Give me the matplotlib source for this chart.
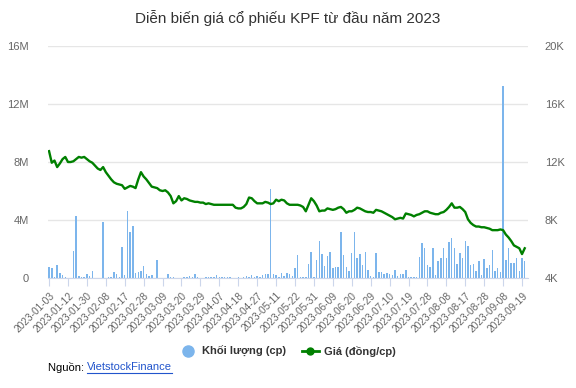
import matplotlib.pyplot as plt
from matplotlib.ticker import FuncFormatter
from matplotlib.lines import Line2D
import numpy as np

# tick labels: every 7th trading day
tick_labels = ["2023-01-03", "2023-01-12", "2023-01-30", "2023-02-08", "2023-02-17",
               "2023-02-28", "2023-03-09", "2023-03-20", "2023-03-29", "2023-04-07",
               "2023-04-18", "2023-04-27", "2023-05-11", "2023-05-22", "2023-05-31",
               "2023-06-09", "2023-06-20", "2023-06-29", "2023-07-10", "2023-07-19",
               "2023-07-28", "2023-08-08", "2023-08-17", "2023-08-28", "2023-09-08",
               "2023-09-19"]

# price, thousand VND per share
price_k = [
    12.75, 11.95, 12.1, 11.65, 11.9, 12.2, 12.35, 12.0, 12.0, 12.05,
    12.2, 12.35, 12.3, 12.35, 12.2, 12.05, 11.95, 11.75, 11.55, 11.45,
    11.65, 11.3, 11.05, 10.8, 10.6, 10.5, 10.45, 10.4, 10.15, 10.25,
    10.35, 10.3, 10.2, 10.8, 11.3, 11.0, 10.8, 10.55, 10.3, 10.25,
    10.2, 10.05, 10.0, 10.05, 9.9, 9.65, 9.15, 9.3, 9.65, 9.35,
    9.5, 9.45, 9.35, 9.3, 9.25, 9.25, 9.2, 9.2, 9.1, 9.15,
    9.1, 9.05, 9.05, 9.05, 9.05, 9.05, 9.05, 9.05, 9.05, 8.85,
    8.8, 8.8, 8.9, 9.1, 9.55, 9.5, 9.3, 9.15, 9.15, 9.15,
    9.25, 9.2, 9.1, 9.15, 9.4, 9.3, 9.4, 9.35, 9.15, 9.05,
    9.05, 9.05, 9.05, 9.0, 8.9, 8.6, 9.05, 9.5, 9.3, 9.0,
    8.6, 8.65, 8.65, 8.8, 8.75, 8.7, 8.75, 8.85, 8.9, 8.75,
    8.5, 8.6, 8.6, 8.7, 8.85, 8.8, 8.7, 8.6, 8.55, 8.55,
    8.5, 8.7, 8.65, 8.6, 8.5, 8.4, 8.3, 8.2, 8.05, 8.1,
    8.15, 8.1, 8.45, 8.4, 8.35, 8.25, 8.35, 8.4, 8.5, 8.6,
    8.6, 8.5, 8.45, 8.4, 8.4, 8.5, 8.55, 8.7, 8.9, 9.15,
    8.85, 8.85, 8.9, 8.75, 8.55, 8.05, 7.8, 7.65, 7.55, 7.55,
    7.5, 7.5, 7.45, 7.4, 7.3, 7.3, 7.3, 7.35, 7.3, 7.0,
    6.8, 6.55, 6.25, 6.15, 6.05, 5.65, 6.05,
]

# volume, million shares
volume_m = [
    0.74, 0.70, 0.10, 0.90, 0.33, 0.20, 0.05, 0.03, 0.03, 1.87,
    4.29, 0.15, 0.10, 0.10, 0.30, 0.15, 0.50, 0.02, 0.02, 0.02,
    3.83, 0.02, 0.10, 0.05, 0.40, 0.25, 0.05, 2.17, 0.20, 4.64,
    3.20, 3.60, 0.35, 0.40, 0.50, 0.85, 0.30, 0.15, 0.20, 0.02,
    1.25, 0.02, 0.02, 0.02, 0.30, 0.05, 0.05, 0.02, 0.02, 0.03,
    0.05, 0.05, 0.15, 0.05, 0.25, 0.10, 0.02, 0.03, 0.05, 0.10,
    0.05, 0.08, 0.20, 0.08, 0.10, 0.05, 0.08, 0.05, 0.03, 0.02,
    0.05, 0.03, 0.10, 0.15, 0.08, 0.20, 0.10, 0.15, 0.10, 0.20,
    0.30, 0.30, 6.14, 0.30, 0.20, 0.10, 0.35, 0.15, 0.35, 0.30,
    0.15, 0.72, 1.60, 0.10, 0.10, 0.10, 0.97, 1.82, 0.10, 1.25,
    2.56, 1.66, 0.85, 1.52, 1.78, 0.67, 0.74, 0.74, 3.18, 1.60,
    0.74, 0.45, 1.75, 3.18, 1.41, 1.66, 0.90, 1.78, 0.55, 0.15,
    0.10, 1.75, 0.40, 0.38, 0.30, 0.35, 0.30, 0.20, 0.55, 0.15,
    0.30, 0.30, 0.55, 0.05, 0.08, 0.05, 0.08, 1.47, 2.40, 2.10,
    0.90, 0.76, 2.05, 0.20, 1.20, 1.40, 2.05, 1.40, 2.50, 2.74,
    2.10, 1.00, 1.75, 1.36, 2.56, 2.20, 0.90, 0.97, 0.45, 1.20,
    0.20, 1.28, 0.67, 0.90, 1.92, 0.50, 0.67, 0.40, 13.25, 1.25,
    2.05, 1.05, 1.05, 1.36, 0.45, 1.40, 1.15,
]

plt.rcParams['font.family'] = ['Liberation Sans', 'DejaVu Sans']

x = np.arange(len(price_k))
vol = np.array(volume_m) * 1e6
price = np.array(price_k) * 1000

fig = plt.figure(figsize=(5.76, 3.88), dpi=100)
ax = fig.add_axes([0.0833, 0.2835, 0.8333, 0.5979])
ax2 = ax.twinx()

ax.bar(x, vol, width=0.55, color="#7cb5ec", zorder=2)
ax2.plot(x, price, color="#008000", lw=1.7, zorder=3)

ax.set_xlim(-0.4, 177.2)
ax.set_ylim(0, 16e6)
ax2.set_ylim(4000, 20000)
ax.set_yticks([0, 4e6, 8e6, 12e6, 16e6])
ax2.set_yticks([4000, 8000, 12000, 16000, 20000])
ax.yaxis.set_major_formatter(FuncFormatter(lambda v, p: "0" if v == 0 else f"{v/1e6:.0f}M"))
ax2.yaxis.set_major_formatter(FuncFormatter(lambda v, p: f"{v/1000:.0f}K"))

ax.grid(axis="y", color="#e6e6e6", lw=1)
ax.set_axisbelow(True)

ax.set_xticks(np.arange(len(tick_labels)) * 7)
ax.set_xticklabels(tick_labels, rotation=45, ha="right", va="top",
                   rotation_mode="anchor", fontsize=7.3, color="#666666")

for a in (ax, ax2):
    for s in ("top", "left", "right", "bottom"):
        a.spines[s].set_visible(False)
ax.spines["bottom"].set_visible(True)
ax.spines["bottom"].set_color("#ccd6eb")

ax.tick_params(axis="x", length=6, color="#ccd6eb", pad=3)
ax.tick_params(axis="y", length=0, labelsize=8, labelcolor="#666666", pad=14)
ax2.tick_params(axis="y", length=0, labelsize=8, labelcolor="#666666", pad=12)

fig.text(0.5, 0.953, "Diễn biến giá cổ phiếu KPF từ đầu năm 2023",
         ha="center", va="center", fontsize=11, color="#333333")

handles = [
    Line2D([], [], marker="o", ls="none", color="#7cb5ec", markersize=8),
    Line2D([], [], marker="o", color="#008000", lw=2, markersize=5),
]
fig.legend(handles, ["Khối lượng (cp)", "Giá (đồng/cp)"], loc="center",
           bbox_to_anchor=(0.5, 0.093), ncol=2, frameon=False,
           prop={"weight": "bold", "size": 8}, labelcolor="#333333",
           handlelength=1.5, columnspacing=1.4, handletextpad=0.5)

t1 = fig.text(0.083, 0.054, "Nguồn: ", ha="left", va="center", fontsize=8, color="#000000")
fig.canvas.draw()
bb = t1.get_window_extent()
x0 = bb.x1 / fig.bbox.width
t2 = fig.text(x0, 0.054, "VietstockFinance", ha="left", va="center", fontsize=8, color="#2255cc")
fig.canvas.draw()
bb2 = t2.get_window_extent()
yline = (bb2.y0 - 0.5) / fig.bbox.height
fig.add_artist(Line2D([bb2.x0 / fig.bbox.width, bb2.x1 / fig.bbox.width], [yline, yline],
                      color="#2255cc", lw=0.8, transform=fig.transFigure))

fig.savefig("out.png", dpi=100)
